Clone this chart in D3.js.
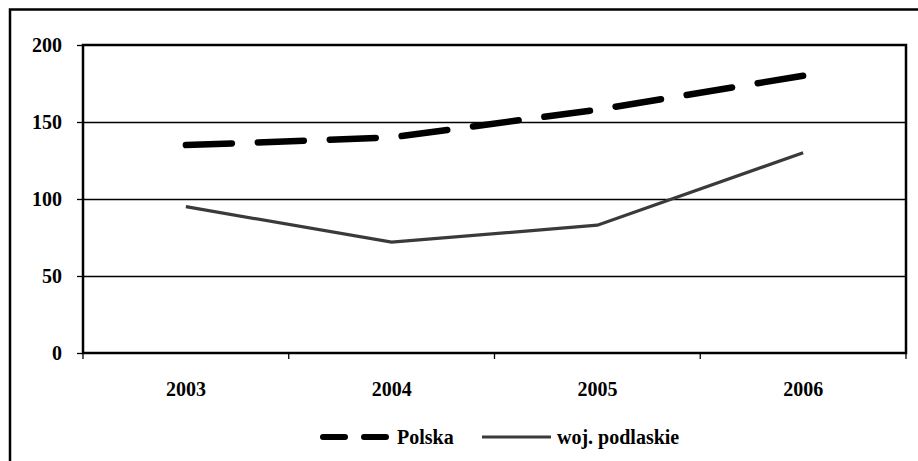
<!DOCTYPE html>
<html><head><meta charset="utf-8">
<script src="https://cdn.jsdelivr.net/npm/d3@7"></script>
<style>html,body{margin:0;padding:0;background:#fff;}
text{font-family:"Liberation Serif","Times New Roman",Times,"DejaVu Serif",serif;font-weight:bold;}</style>
</head><body>
<svg id="c" width="918" height="461"></svg>
<script>
const years = ["2003", "2004", "2005", "2006"];
const polska = [135, 140, 158, 180];
const podlaskie = [95, 72, 83, 130];
const yTicks = [0, 50, 100, 150, 200];
const seriesNames = ["Polska", "woj. podlaskie"];

const svg = d3.select("#c");
const m = {left: 83, top: 45, right: 906, bottom: 353};

// outer frame (left and top edges visible)
svg.append("path").attr("d", "M10,461 V9.5 H918").attr("fill", "none")
  .attr("stroke", "#000").attr("stroke-width", 2.5);

const x = d3.scaleBand().domain(years).range([m.left, m.right]).padding(0);
const y = d3.scaleLinear().domain([0, 200]).range([m.bottom, m.top]);

// gridlines
svg.append("g").selectAll("line").data(yTicks.filter(v => v > 0 && v < 200)).join("line")
  .attr("x1", m.left).attr("x2", m.right).attr("y1", d => Math.round(y(d)) + 0.5).attr("y2", d => Math.round(y(d)) + 0.5)
  .attr("stroke", "#000").attr("stroke-width", 1.3);

// y axis
const ya = svg.append("g").attr("transform", `translate(${m.left},0)`)
  .call(d3.axisLeft(y).tickValues(yTicks).tickSize(6).tickPadding(15));
ya.select(".domain").remove();
ya.selectAll("line").attr("stroke", "#000").attr("stroke-width", 1.3);
ya.selectAll("text").attr("font-size", 20).attr("fill", "#000").attr("dy", "0.34em")
  .attr("font-family", null);

// x axis ticks at band boundaries
const boundaries = years.map(d => x(d)).concat([m.right]);
svg.append("g").selectAll("line").data(boundaries).join("line")
  .attr("x1", d => d).attr("x2", d => d).attr("y1", m.bottom).attr("y2", m.bottom + 6)
  .attr("stroke", "#000").attr("stroke-width", 1.3);
svg.append("g").selectAll("text").data(years).join("text")
  .attr("x", d => x(d) + x.bandwidth() / 2).attr("y", 396)
  .attr("text-anchor", "middle").attr("font-size", 20).text(d => d);

// plot frame
svg.append("rect").attr("x", m.left).attr("y", m.top)
  .attr("width", m.right - m.left).attr("height", m.bottom - m.top)
  .attr("fill", "none").attr("stroke", "#000").attr("stroke-width", 2.5);

const line = d3.line().x((d, i) => x(years[i]) + x.bandwidth() / 2).y(d => y(d));

svg.append("path").datum(podlaskie).attr("d", line).attr("fill", "none")
  .attr("stroke", "#3a3a3a").attr("stroke-width", 3.2);
svg.append("path").datum(polska).attr("d", line).attr("fill", "none")
  .attr("stroke", "#000").attr("stroke-width", 6.5).attr("stroke-linecap", "round")
  .attr("stroke-dasharray", "46 26");

// legend
const lg = svg.append("g");
lg.append("line").attr("x1", 323).attr("x2", 390).attr("y1", 437).attr("y2", 437)
  .attr("stroke", "#000").attr("stroke-width", 6).attr("stroke-linecap", "round")
  .attr("stroke-dasharray", "22 19");
lg.append("text").attr("x", 397).attr("y", 444).attr("font-size", 20).text(seriesNames[0]);
lg.append("line").attr("x1", 482).attr("x2", 551).attr("y1", 437).attr("y2", 437)
  .attr("stroke", "#3a3a3a").attr("stroke-width", 3.2);
lg.append("text").attr("x", 557).attr("y", 444).attr("font-size", 20).text(seriesNames[1]);
</script>
</body></html>
